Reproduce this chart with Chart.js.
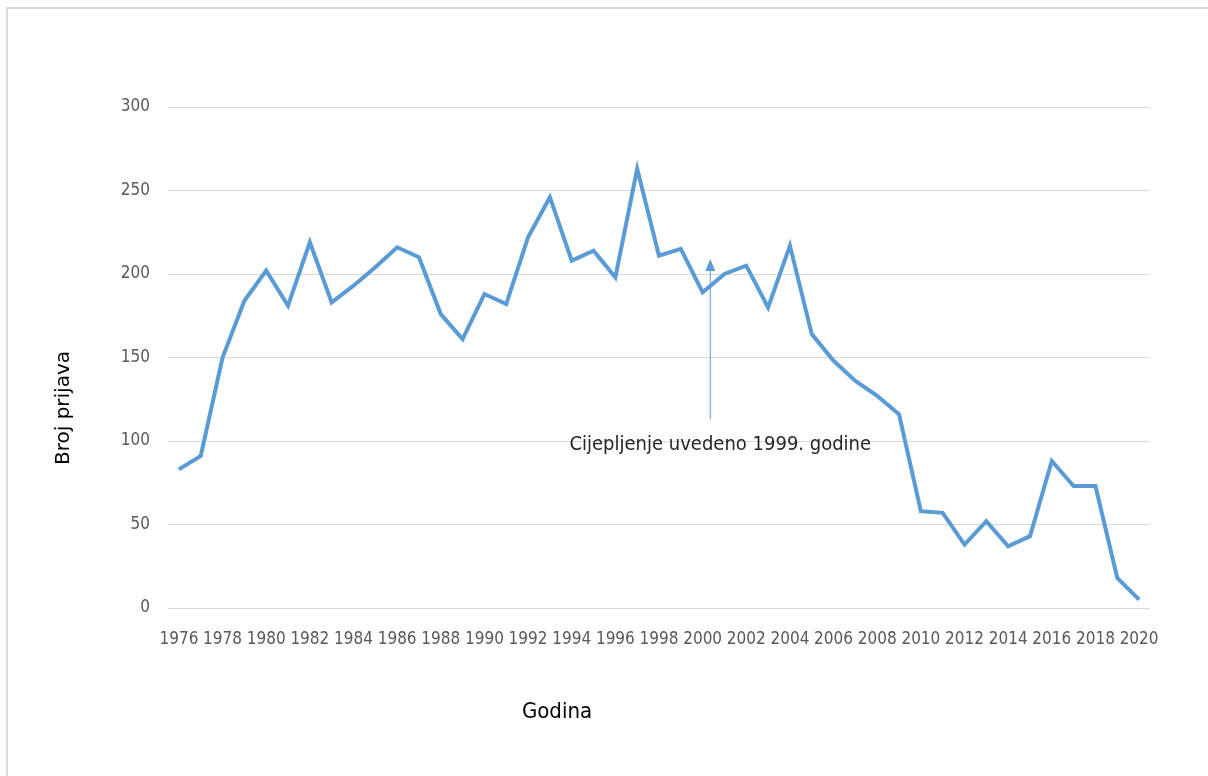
<!DOCTYPE html>
<html>
<head>
<meta charset="utf-8">
<script src="https://cdn.jsdelivr.net/npm/chart.js@4"></script>
<style>
  body { margin: 0; background: #fff; overflow: hidden; }
  #frame { position: absolute; left: 6px; top: 7px; width: 1300px; height: 900px;
           border-left: 2px solid #d9d9d9; border-top: 2px solid #d9d9d9; }
  #myChart { position: absolute; left: 0; top: 0; }
</style>
</head>
<body>
<div id="frame"></div>
<canvas id="myChart" width="1208" height="776"></canvas>
<script>
// Broj prijava po godinama

const years = ['1976','1977','1978','1979','1980','1981','1982','1983','1984','1985',
               '1986','1987','1988','1989','1990','1991','1992','1993','1994','1995',
               '1996','1997','1998','1999','2000','2001','2002','2003','2004','2005',
               '2006','2007','2008','2009','2010','2011','2012','2013','2014','2015',
               '2016','2017','2018','2019','2020'];

const cases = [83, 91, 150, 184, 202, 181, 219, 183, 193, 204,
               216, 210, 176, 161, 188, 182, 222, 246, 208, 214,
               198, 263, 211, 215, 189, 200, 205, 180, 217, 164,
               148, 136, 127, 116, 58, 57, 38, 52, 37, 43,
               88, 73, 73, 18, 5];

const yTicks = [0, 50, 100, 150, 200, 250, 300];

// annotation
const noteText = 'Cijepljenje uvedeno 1999. godine';
const arrowYear = 2000.35;
const arrowFrom = 113;
const arrowTo = 209;
const noteValue = 98;

const xTitle = 'Godina';
const yTitle = 'Broj prijava';

const narrow = '"Liberation Sans Narrow", "DejaVu Sans Condensed", sans-serif';

// arrow + note, and the axis titles (they sit off-centre in the original)
const arrowPlugin = {
    id: 'arrowNote',
    afterDatasetsDraw(chart) {
        const ctx = chart.ctx;
        const xs = chart.scales.x, ys = chart.scales.y;
        const x = xs.getPixelForValue(arrowYear - Number(years[0]));
        const y1 = ys.getPixelForValue(arrowFrom);
        const y2 = ys.getPixelForValue(arrowTo);
        ctx.save();
        ctx.strokeStyle = '#5b9bd5';
        ctx.fillStyle = '#5b9bd5';
        ctx.lineWidth = 1;
        ctx.beginPath();
        ctx.moveTo(x, y1);
        ctx.lineTo(x, y2 + 10);
        ctx.stroke();
        ctx.beginPath();
        ctx.moveTo(x, y2);
        ctx.lineTo(x - 5, y2 + 12);
        ctx.lineTo(x + 5, y2 + 12);
        ctx.closePath();
        ctx.fill();

        ctx.fillStyle = '#262626';
        ctx.font = '20px ' + narrow;
        ctx.textAlign = 'center';
        ctx.textBaseline = 'middle';
        ctx.fillText(noteText, x + 10, ys.getPixelForValue(noteValue));

        ctx.fillStyle = '#000';
        ctx.font = '22px ' + narrow;
        ctx.fillText(xTitle, 557, 712);

        ctx.translate(64, 408);
        ctx.rotate(-Math.PI / 2);
        ctx.font = '20px "DejaVu Sans", sans-serif';
        ctx.fillText(yTitle, 0, 0);
        ctx.restore();
    }
};

const ctx = document.getElementById('myChart');
const myChart = new Chart(ctx, {
    type: 'line',
    data: {
        labels: years,
        datasets: [{
            data: cases,
            borderColor: '#5b9bd5',
            borderWidth: 4,
            pointRadius: 0,
            tension: 0,
            fill: false
        }]
    },
    options: {
        responsive: false,
        animation: false,
        layout: {
            padding: { left: 51, right: 58, top: 107, bottom: 52 }
        },
        scales: {
            x: {
                offset: true,
                grid: { display: false, drawTicks: false },
                border: { display: false },
                ticks: {
                    autoSkip: false,
                    maxRotation: 0,
                    padding: 21,
                    color: '#595959',
                    font: { family: narrow, size: 17 },
                    callback: function(v, i) { return i % 2 === 0 ? years[i] : ''; }
                },
                afterFit: function(scale) { scale.height = 116; }
            },
            y: {
                min: 0,
                max: 300,
                afterBuildTicks: function(scale) {
                    scale.ticks = yTicks.map(v => ({ value: v }));
                },
                grid: { color: '#d9d9d9', lineWidth: 1, drawTicks: false },
                border: { display: false },
                ticks: {
                    padding: 18,
                    color: '#595959',
                    font: { family: narrow, size: 17 }
                },
                afterFit: function(scale) { scale.width = 117; }
            }
        },
        plugins: {
            legend: { display: false },
            tooltip: { enabled: false }
        }
    },
    plugins: [arrowPlugin]
});
</script>
</body>
</html>
